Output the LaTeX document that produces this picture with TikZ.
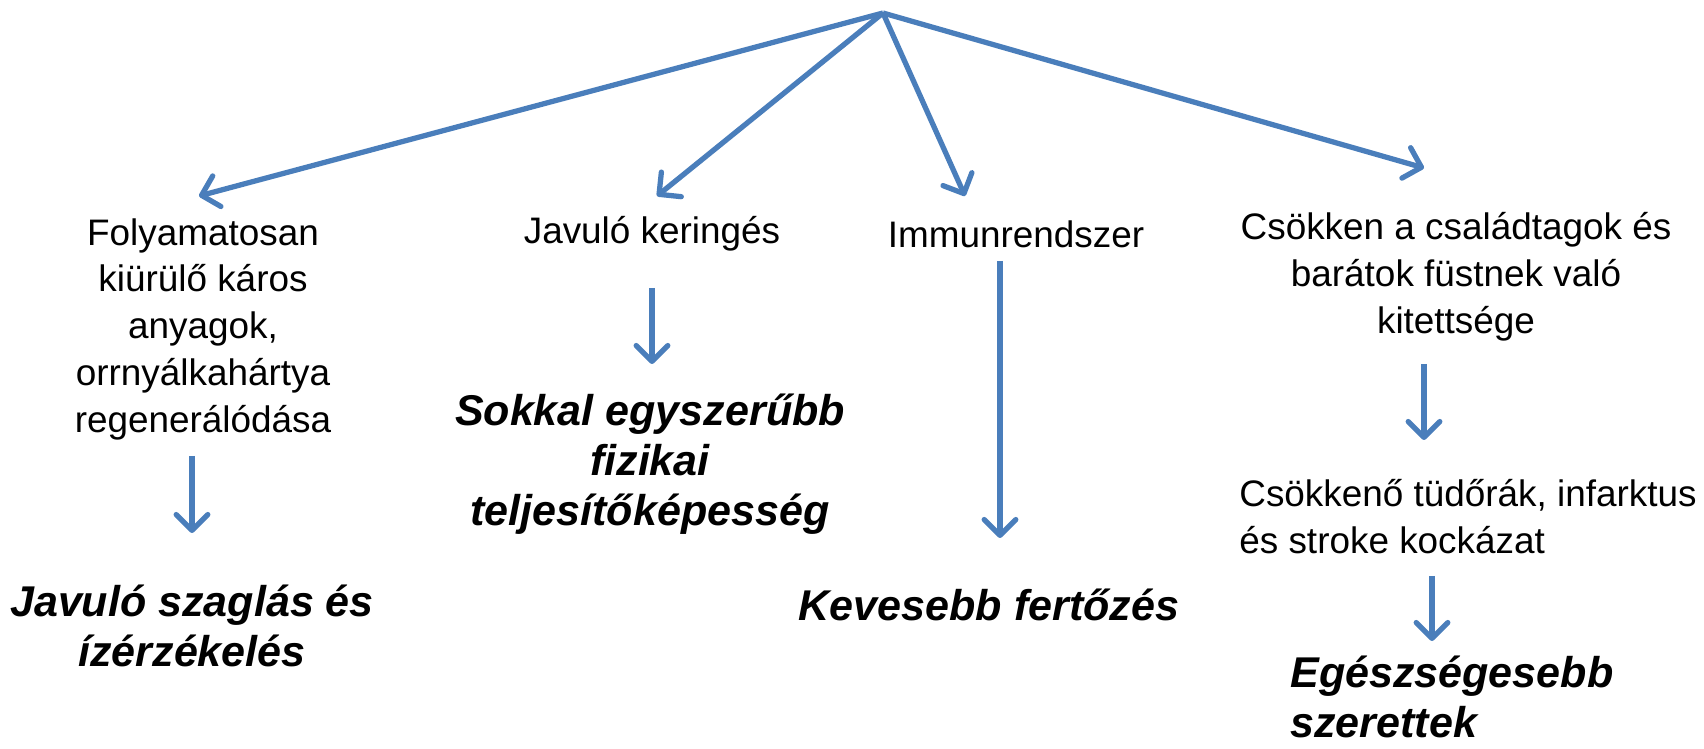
\documentclass[tikz,border=0pt]{standalone}
\usepackage{fontspec}
\setmainfont{Liberation Sans}
\usepackage{xcolor}
\usetikzlibrary{arrows.meta}
\definecolor{arrowblue}{RGB}{74,126,187}

\begin{document}
\begin{tikzpicture}[x=0.02cm,y=-0.02cm,
 >={Straight Barb[length=9pt,width=18pt,line cap=round,line join=round]},
 link/.style={->,draw=arrowblue,line width=3pt},
 plain/.style={align=center,inner sep=0pt,font=\fontsize{21}{26.7}\selectfont},
 result/.style={align=center,inner sep=0pt,font=\fontsize{24.5}{28.5}\selectfont\bfseries\itshape}]
 \useasboundingbox (0,0) rectangle (1704,749);
 \coordinate (top) at (883,13);

 % first column
 \node[plain,anchor=north] (c1) at (203,218) {Folyamatosan\\kiürülő káros\\anyagok,\\orrnyálkahártya\\regenerálódása};
 \node[result] (r1) at (192,626) {Javuló szaglás és\\ízérzékelés};
 \coordinate (c1top) at (199,196);
 \coordinate (c1a) at (192,456);
 \coordinate (c1b) at (192,533);

 % second column
 \node[plain] (c2) at (652,234) {Javuló keringés};
 \node[result] (r2) at (650,464) {Sokkal egyszerűbb\\fizikai\\teljesítőképesség};
 \coordinate (c2top) at (657,196);
 \coordinate (c2a) at (652,288);
 \coordinate (c2b) at (652,364);

 % third column
 \node[plain] (c3) at (1016,234) {Immunrendszer};
 \node[result] (r3) at (989,605) {Kevesebb fertőzés};
 \coordinate (c3top) at (965,196);
 \coordinate (c3a) at (1000,261);
 \coordinate (c3b) at (1000,538);

 % fourth column
 \node[plain] (c4) at (1456,277) {Csökken a családtagok és\\barátok füstnek való\\kitettsége};
 \node[plain,align=left,anchor=west] (m4) at (1239,517) {Csökkenő tüdőrák, infarktus\\és stroke kockázat};
 \node[result,align=left,anchor=west] (r4) at (1290,697) {Egészségesebb\\szerettek};
 \coordinate (c4top) at (1424,168);
 \coordinate (c4a) at (1424,364);
 \coordinate (c4b) at (1424,440);
 \coordinate (m4a) at (1432,576);
 \coordinate (m4b) at (1432,641);

 \draw[link] (top) -- (c1top);
 \draw[link] (top) -- (c2top);
 \draw[link] (top) -- (c3top);
 \draw[link] (top) -- (c4top);
 \draw[link] (c1a) -- (c1b);
 \draw[link] (c2a) -- (c2b);
 \draw[link] (c3a) -- (c3b);
 \draw[link] (c4a) -- (c4b);
 \draw[link] (m4a) -- (m4b);
\end{tikzpicture}
\end{document}
